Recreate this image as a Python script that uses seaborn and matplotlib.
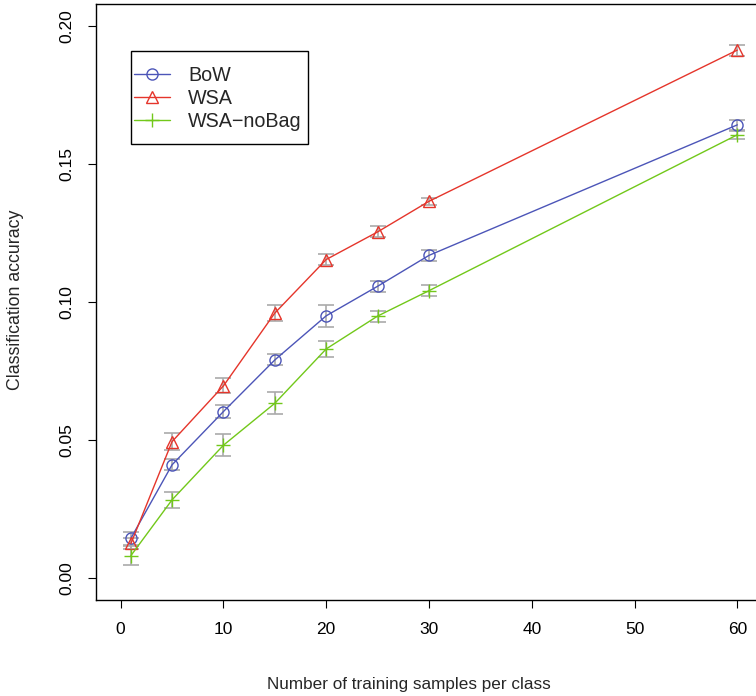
import seaborn as sns
import matplotlib.pyplot as plt
import matplotlib.patches as mpatches
import pandas as pd

# --- data ---
samples = [1, 5, 10, 15, 20, 25, 30, 60]
series = ["BoW", "WSA", "WSA\u2212noBag"]

bow_acc = [0.0144, 0.041, 0.0603, 0.079, 0.095, 0.1057, 0.1169, 0.1642]
bow_err = [0.0023, 0.0020, 0.0022, 0.0020, 0.0040, 0.0020, 0.0020, 0.0018]

wsa_acc = [0.0125, 0.0494, 0.0696, 0.096, 0.1154, 0.1254, 0.1365, 0.1913]
wsa_err = [0.0020, 0.0030, 0.0027, 0.0030, 0.0020, 0.0020, 0.0012, 0.0020]

nobag_acc = [0.0081, 0.0283, 0.0481, 0.0633, 0.083, 0.0949, 0.1041, 0.1606]
nobag_err = [0.0035, 0.0030, 0.0040, 0.0040, 0.0030, 0.0020, 0.0020, 0.0015]

colors = {"BoW": "#4C55B8", "WSA": "#E5352B", "WSA\u2212noBag": "#72C81A"}
markers = {"BoW": "o", "WSA": "^", "WSA\u2212noBag": "+"}

df = pd.DataFrame({
    "samples": samples * 3,
    "acc": bow_acc + wsa_acc + nobag_acc,
    "err": bow_err + wsa_err + nobag_err,
    "method": [s for s in series for _ in samples],
})

# --- chart ---
sns.set_style("ticks")
plt.rcParams["font.family"] = ["Liberation Sans", "DejaVu Sans"]

fig = plt.figure(figsize=(7.56, 6.96), dpi=100)
ax = fig.add_axes([96 / 756, 96 / 696, 666 / 756, 596 / 696])

for name in series:
    sub = df[df["method"] == name]
    # grey error bars underneath
    ax.errorbar(sub["samples"], sub["acc"], yerr=sub["err"], fmt="none",
                ecolor="#AAAAAA", elinewidth=1.2, capsize=5.5, capthick=1.2,
                zorder=1)
    msize = 10 if markers[name] == "+" else 8
    sns.lineplot(data=sub, x="samples", y="acc", ax=ax, color=colors[name],
                 marker=markers[name], markersize=msize, markerfacecolor="none",
                 markeredgecolor=colors[name], markeredgewidth=1.0,
                 linewidth=1.0, label=name, zorder=3)

ax.set_xlim(-2.4, 62.4)
ax.set_ylim(-0.008, 0.208)
ax.set_xticks([0, 10, 20, 30, 40, 50, 60])
ax.set_yticks([0.0, 0.05, 0.10, 0.15, 0.20])
ax.set_yticklabels(["0.00", "0.05", "0.10", "0.15", "0.20"], rotation=90, va="center")
ax.tick_params(direction="out", length=5.5, width=0.8, labelsize=12.5, pad=10,
               colors="black")
for sp in ax.spines.values():
    sp.set_visible(True)
    sp.set_color("black")
    sp.set_linewidth(1.0)

ax.set_xlabel("")
ax.set_ylabel("")
fig.text(409 / 756, 1 - 684 / 696, "Number of training samples per class",
         ha="center", va="center", fontsize=12.3)
fig.text(16 / 756, 1 - 300 / 696, "Classification accuracy", rotation=90,
         ha="center", va="center", fontsize=12.8)

# legend: contents without frame, plus a plain black box
leg = ax.legend(loc="upper left", bbox_to_anchor=(134 / 756, 1 - 66 / 696),
                bbox_transform=fig.transFigure, fontsize=14.2, frameon=False,
                handlelength=1.8, handletextpad=0.95, labelspacing=0.2,
                borderpad=0, borderaxespad=0)
fig.patches.append(mpatches.Rectangle((131 / 756, 1 - 144 / 696), 177 / 756, 93 / 696,
                                      transform=fig.transFigure, fill=False,
                                      edgecolor="black", linewidth=1.0, zorder=5))

plt.savefig("out.png", dpi=100)
plt.close()
